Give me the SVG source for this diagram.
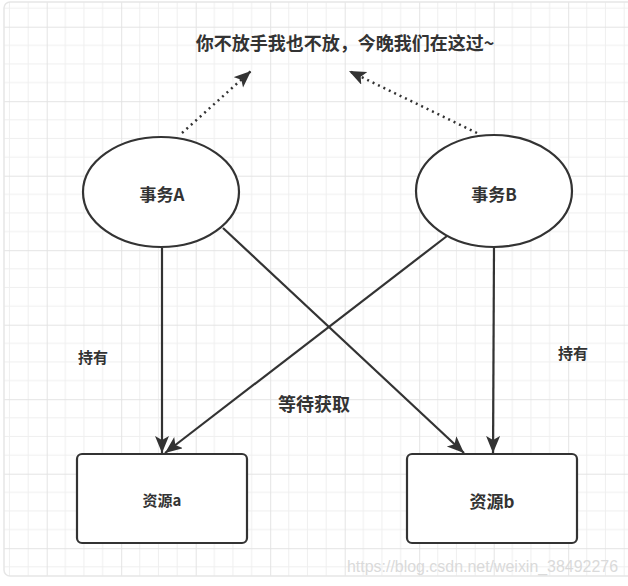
<svg xmlns="http://www.w3.org/2000/svg" width="628" height="586" viewBox="0 0 628 586">
<style>
.t{font-family:"Noto Sans CJK SC","Liberation Sans",sans-serif;font-weight:bold;fill:#333;text-anchor:middle;dominant-baseline:central}
.shape{fill:#fff;stroke:#333;stroke-width:2.2}
.edge{fill:none;stroke:#333;stroke-width:2.2}
.dot{fill:none;stroke:#333;stroke-width:2.5;stroke-dasharray:2 4}
</style>
<defs>
<pattern id="grid" patternUnits="userSpaceOnUse" x="46.7" y="26.7" width="74.5" height="74.5">
<path d="M18.6 0V74.5M37.25 0V74.5M55.9 0V74.5M0 18.6H74.5M0 37.25H74.5M0 55.9H74.5" stroke="#efefef" stroke-width="1" fill="none"/>
<path d="M0.5 0V74.5M0 0.5H74.5" stroke="#e3e3e3" stroke-width="1" fill="none"/>
</pattern>
<marker id="arr" markerUnits="userSpaceOnUse" markerWidth="20" markerHeight="16" refX="17" refY="7" orient="auto">
<path d="M0 0L17 7L0 14L4 7z" fill="#333"/>
</marker>
</defs>
<rect x="0" y="0" width="628" height="586" fill="#fff"/>
<rect x="4" y="2" width="640" height="574" rx="6" fill="url(#grid)" stroke="#e6e6e6" stroke-width="1.5"/>
<text x="347" y="566" style="font-family:'Liberation Sans',sans-serif;font-size:16px;fill:#dadada;dominant-baseline:central" textLength="271" lengthAdjust="spacingAndGlyphs">https://blog.csdn.net/weixin_38492276</text>
<g id="connectors">
<line class="dot" x1="182" y1="133" x2="251" y2="71" marker-end="url(#arr)"/>
<line class="dot" x1="477" y1="133" x2="349" y2="71" marker-end="url(#arr)"/>
<line class="edge" x1="162" y1="248" x2="162" y2="453" marker-end="url(#arr)"/>
<line class="edge" x1="494" y1="248" x2="493" y2="453" marker-end="url(#arr)"/>
<line class="edge" x1="223" y1="228" x2="464" y2="453" marker-end="url(#arr)"/>
<line class="edge" x1="447" y1="236" x2="165" y2="453" marker-end="url(#arr)"/>
</g>
<g id="title"><text class="t" x="345" y="42" style="font-size:18px">你不放手我也不放，今晚我们在这过~</text></g>
<g id="txA"><ellipse class="shape" cx="161" cy="192" rx="78" ry="55"/><text class="t" x="162" y="193" style="font-size:17px">事务A</text></g>
<g id="txB"><ellipse class="shape" cx="494" cy="191" rx="78" ry="56"/><text class="t" x="494" y="193" style="font-size:17px">事务B</text></g>
<g id="resA"><rect class="shape" x="77" y="454" width="170" height="89" rx="5"/><text class="t" x="162" y="499" style="font-size:15px">资源a</text></g>
<g id="resB"><rect class="shape" x="407" y="454" width="170" height="89" rx="5"/><text class="t" x="492" y="500" style="font-size:17px">资源b</text></g>
<g id="labels">
<text class="t" x="93" y="356" style="font-size:15px">持有</text>
<text class="t" x="573" y="352" style="font-size:15px">持有</text>
<text class="t" x="314" y="403" style="font-size:18px">等待获取</text>
</g>
</svg>
